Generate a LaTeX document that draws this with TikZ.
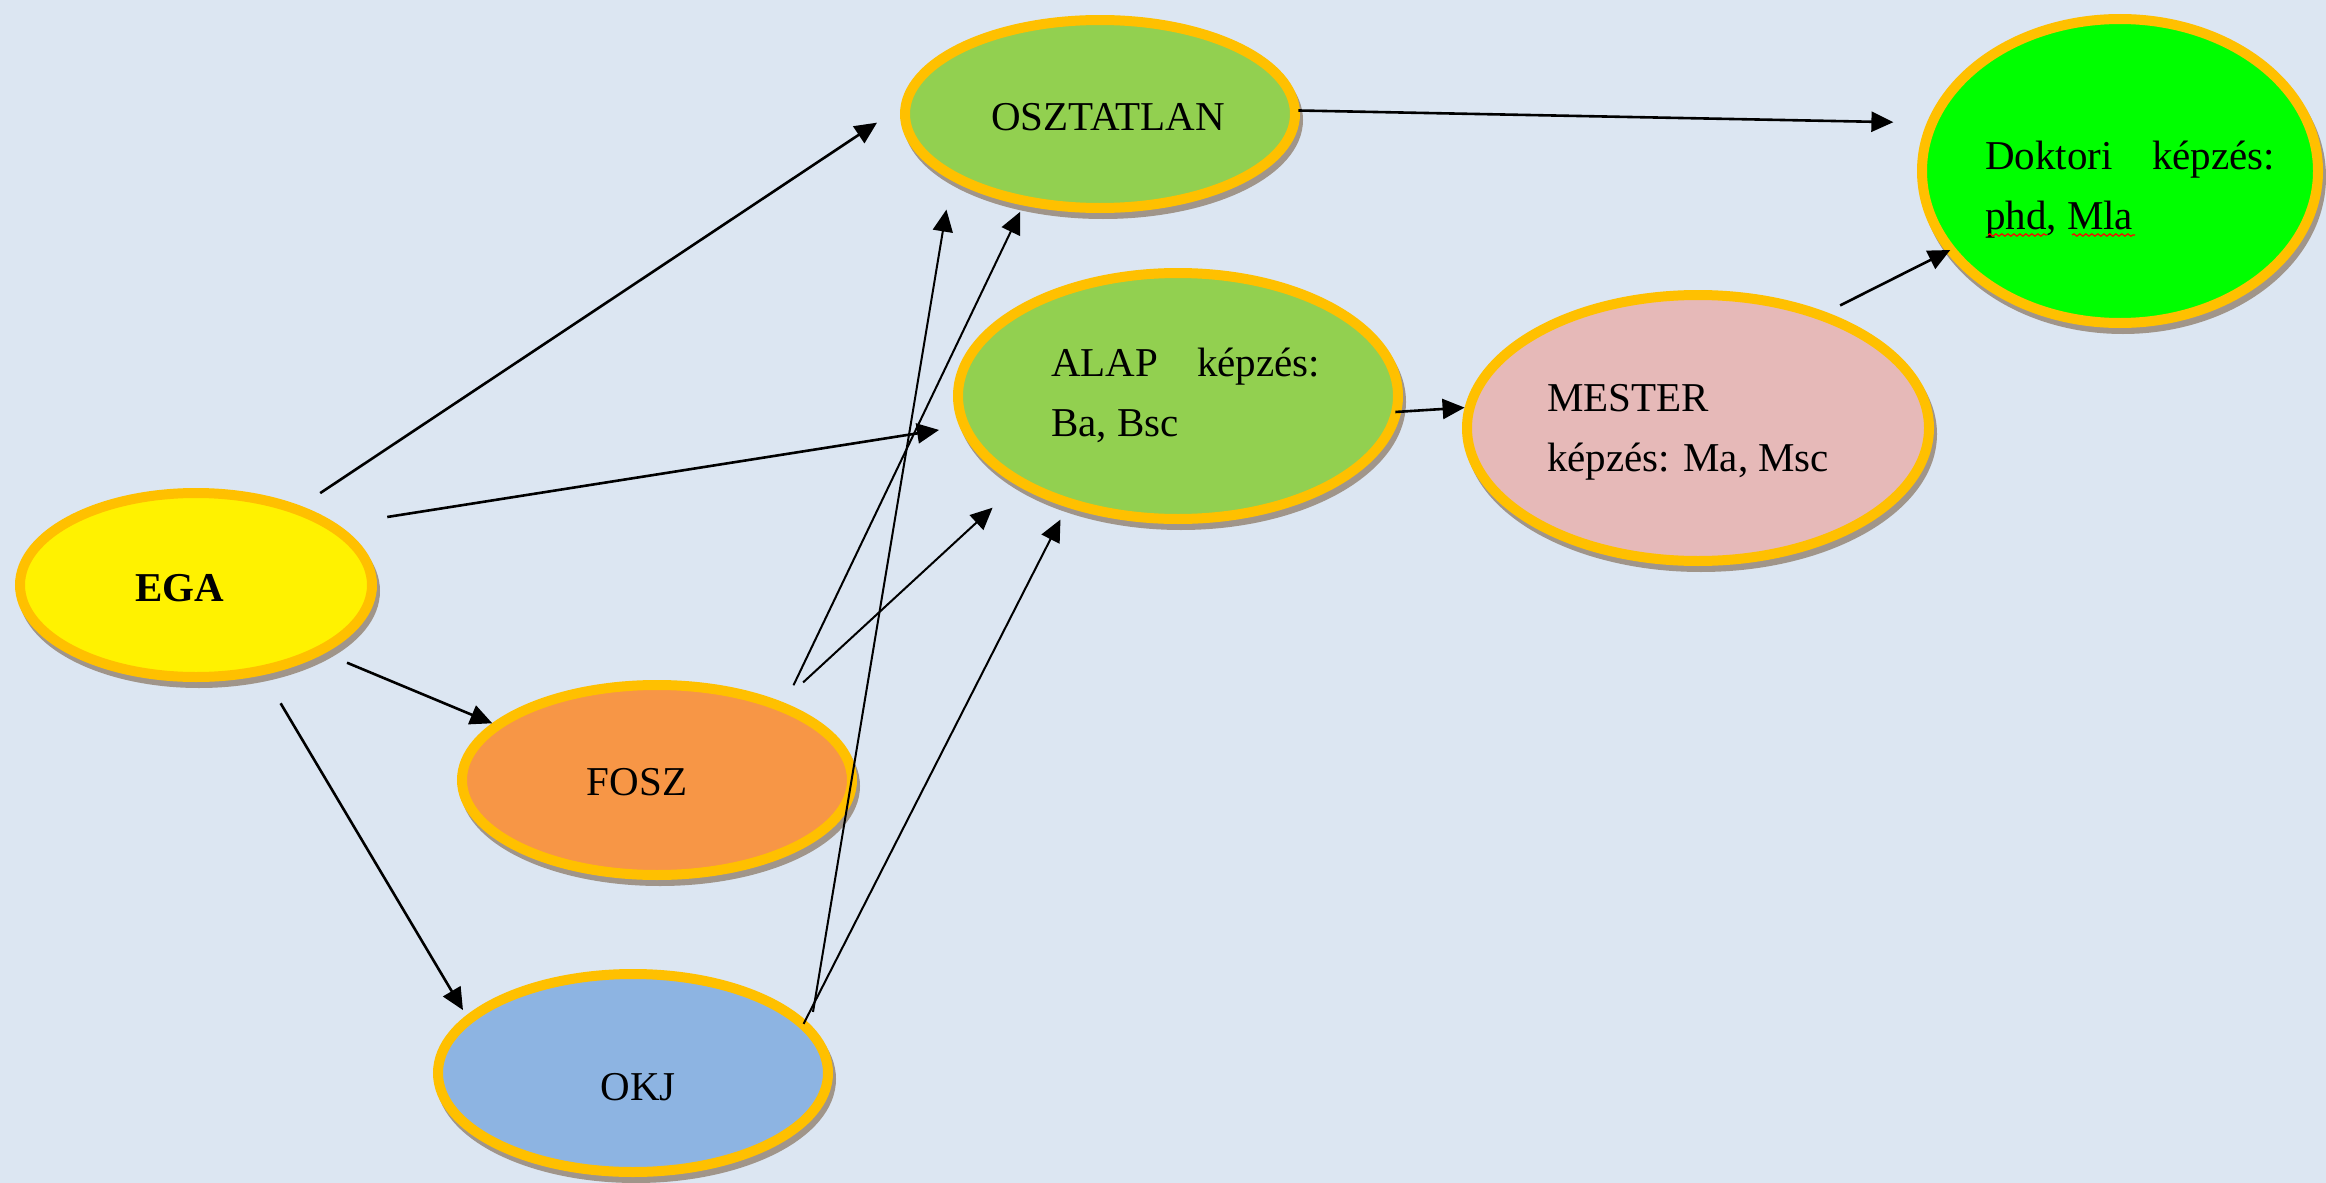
\documentclass[tikz,border=0pt]{standalone}
\usepackage{fontspec}
\setmainfont{Liberation Serif}
\usetikzlibrary{shapes.geometric,arrows.meta,shadows,calc,decorations.pathmorphing}
\definecolor{bg}{HTML}{DCE6F2}
\definecolor{ring}{HTML}{FFC000}
\definecolor{shade}{HTML}{A0958A}
\definecolor{lgreen}{HTML}{92D050}
\definecolor{bgreen}{HTML}{00FF00}
\definecolor{pinkc}{HTML}{E6B9B8}
\definecolor{orangec}{HTML}{F79646}
\definecolor{bluec}{HTML}{8DB4E2}
\newcommand\ptxt[3]{\raisebox{#2}[0pt][0pt]{\makebox[0pt]{\hspace*{#1}\hspace*{#1}#3}}}
\begin{document}
\begin{tikzpicture}[x=0.5pt,y=-0.5pt,
  bub/.style={ellipse, draw=ring, line width=5pt, inner sep=0pt, text=black,
     font=\fontsize{20.5pt}{30pt}\selectfont,
     drop shadow={shadow xshift=1.5pt, shadow yshift=-3pt, fill=shade, draw=shade, line width=5pt, opacity=1}},
  conn/.style={line width=1.3pt, -{Triangle[length=11pt,width=10pt]}},
  thin/.style={line width=1pt},
  wavy/.style={draw=red, line width=0.6pt, decorate, decoration={snake, amplitude=0.6pt, segment length=3pt}}
]
\fill[bg] (0,0) rectangle (2326,1183);
\useasboundingbox (0,0) rectangle (2326,1183);

\node[bub, fill=yellow, minimum width=176pt, minimum height=92pt] (ega) at (196,585) {\ptxt{-8.25pt}{-8.1pt}{\textbf{EGA}}};
\node[bub, fill=lgreen, minimum width=195pt, minimum height=94pt] (osz) at (1100,114) {\ptxt{4pt}{-8.1pt}{OSZTATLAN}};
\node[bub, fill=lgreen, minimum width=220pt, minimum height=123pt] (alap) at (1178,396) {\ptxt{3.75pt}{-4.85pt}{\parbox{134.5pt}{\makebox[134.5pt][s]{ALAP képzés:}\\Ba, Bsc}}};
\node[bub, fill=pinkc, minimum width=231pt, minimum height=133pt] (mester) at (1698,428) {\ptxt{-5pt}{-7.5pt}{\parbox{141pt}{MESTER\\képzés: Ma, Msc}}};
\node[bub, fill=bgreen, minimum width=198pt, minimum height=152pt] (dok) at (2120,171) {\ptxt{5pt}{-14.5pt}{\parbox{145pt}{\makebox[145pt][s]{Doktori képzés:}\\phd, Mla}}};
\node[bub, fill=orangec, minimum width=195pt, minimum height=95pt] (fosz) at (657,780) {\ptxt{-10pt}{-7.6pt}{FOSZ}};
\node[bub, fill=bluec, minimum width=195pt, minimum height=99pt] (okj) at (633,1073) {\ptxt{2.5pt}{-13.6pt}{OKJ}};

\draw[wavy] ($(dok.center)+(-132,64)$) -- ($(dok.center)+(-73,64)$);
\draw[wavy] ($(dok.center)+(-48,64)$) -- ($(dok.center)+(15,64)$);

\draw[conn, shorten <=11.6pt, shorten >=14.1pt] (ega.37.1) -- (osz.178.1);
\draw[conn, shorten <=25pt, shorten >=10.4pt] (ega.23.1) -- (alap.188.6);
\draw[conn, shorten <=12.2pt] (ega.332.0) -- (fosz.161.8);
\draw[conn, shorten <=16.5pt, shorten >=3.2pt] (ega.307.7) -- (okj.161.0);
\draw[conn, thin, shorten <=9.9pt, shorten >=3.5pt] (fosz.31.2) -- (osz.230.8);
\draw[conn, thin, shorten <=14.4pt, shorten >=16.5pt] (fosz.32.4) -- (alap.209.2);
\draw[conn, thin, shorten <=6.8pt, shorten >=14.9pt] (okj.15.0) -- (osz.204.2);
\draw[conn, thin, shorten <=-2pt, shorten >=6.9pt] (okj.17.9) -- (alap.225.6);
\draw[conn, shorten <=-0.8pt, shorten >=16.7pt] (osz.1.7) -- (dok.166.3);
\draw[conn, shorten <=-3pt] (alap.356.9) -- (mester.175.1);
\draw[conn, shorten <=7.6pt, shorten >=-2.3pt] (mester.42.7) -- (dok.205.7);
\end{tikzpicture}
\end{document}
